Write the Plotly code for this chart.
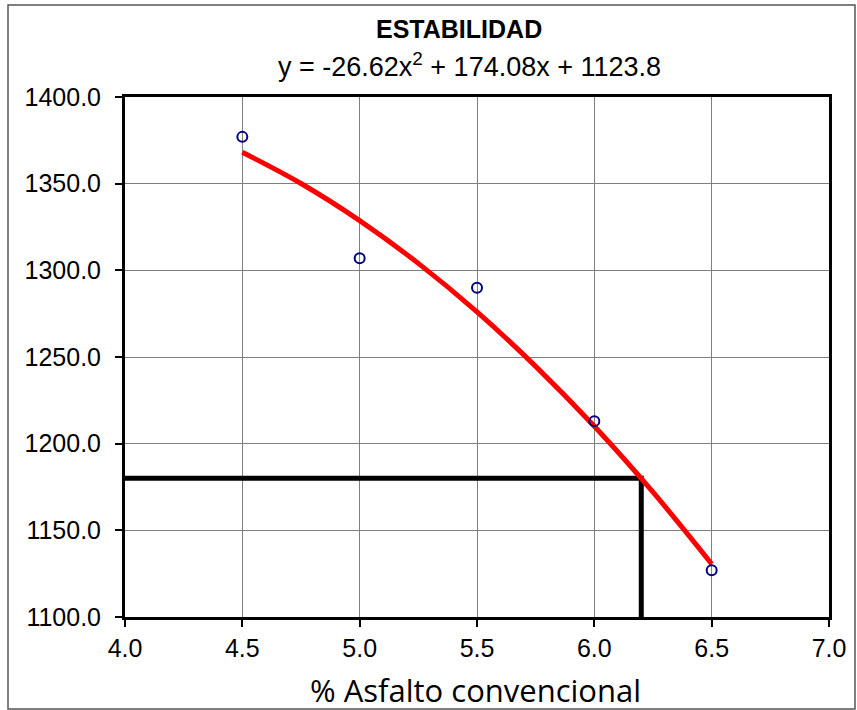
import plotly.graph_objects as go

# Measured data
asfalto = [4.5, 5.0, 5.5, 6.0, 6.5]
estabilidad = [1377, 1307, 1290, 1213, 1127]

# Trend curve points
curva_x = [4.5, 4.75, 5.0, 5.25, 5.5, 5.75, 6.0, 6.25, 6.5]
curva_y = [1368.1, 1350.1, 1328.7, 1304.0, 1276.0, 1244.6, 1210.0, 1172.0, 1130.6]

# Design reading (horizontal and vertical guide)
guia_x = [4.0, 6.2, 6.2]
guia_y = [1180, 1180, 1100]

titulo = "ESTABILIDAD"
ecuacion = "y = -26.62x<sup>2</sup> + 174.08x + 1123.8"
eje_x = "% Asfalto convencional"

x_ticks = [4.0, 4.5, 5.0, 5.5, 6.0, 6.5, 7.0]
y_ticks = [1100, 1150, 1200, 1250, 1300, 1350, 1400]

L, R, T, B = 125, 28, 97, 93
PW, PH = 857 - L - R, 710 - T - B

fig = go.Figure()
fig.add_trace(go.Scatter(x=guia_x, y=guia_y, mode="lines",
                         line=dict(color="black", width=5), showlegend=False,
                         hoverinfo="skip"))
fig.add_trace(go.Scatter(x=curva_x, y=curva_y, mode="lines",
                         line=dict(color="#ff0000", width=5, shape="spline"),
                         showlegend=False))
fig.add_trace(go.Scatter(x=asfalto, y=estabilidad, mode="markers",
                         marker=dict(symbol="circle-open", size=10,
                                     color="#000080", line=dict(width=2, color="#000080")),
                         showlegend=False))

axis_common = dict(showgrid=True, gridcolor="#7f7f7f", gridwidth=1,
                   ticks="outside", ticklen=7, tickwidth=2, tickcolor="black",
                   showline=True, linecolor="black", linewidth=3, mirror=True,
                   tickfont=dict(size=25), zeroline=False)

fig.update_layout(
    width=857, height=710,
    margin=dict(l=L, r=R, t=T, b=B),
    paper_bgcolor="white", plot_bgcolor="white",
    font=dict(family="Liberation Sans, Arial, sans-serif", color="black"),
    xaxis=dict(range=[4.0, 7.0], tickvals=x_ticks,
               ticktext=[f"{v:.1f}" for v in x_ticks], **axis_common),
    yaxis=dict(range=[1100, 1400], tickvals=y_ticks,
               ticktext=[f"{v:.1f}" for v in y_ticks],
               ticklabelstandoff=9, **axis_common),
    annotations=[
        dict(text=f"<b>{titulo}</b>", xref="paper", yref="paper",
             x=(459 - L) / PW, y=1.0,
             yshift=T - 29, showarrow=False, font=dict(size=25),
             xanchor="center", yanchor="middle"),
        dict(text=ecuacion, xref="paper", yref="paper",
             x=(469 - L) / PW, y=1.0,
             yshift=T - 65, showarrow=False, font=dict(size=27),
             xanchor="center", yanchor="middle"),
        dict(text=eje_x, xref="paper", yref="paper",
             x=(475 - L) / PW, y=0.0,
             yshift=-(690 - (710 - B)), showarrow=False,
             font=dict(family="Open Sans, Noto Sans, sans-serif", size=31),
             xanchor="center", yanchor="middle"),
    ],
    shapes=[
        dict(type="rect", xref="paper", yref="paper",
             x0=(8 - L) / PW, x1=(855 - L) / PW,
             y0=-(709 - (710 - B)) / PH, y1=1 + (T - 5) / PH,
             line=dict(color="#555555", width=1.5), fillcolor="rgba(0,0,0,0)", layer="below"),
    ],
)

fig.write_html("out.html", config={"displayModeBar": False},
               post_script="document.body.style.margin='0';")
